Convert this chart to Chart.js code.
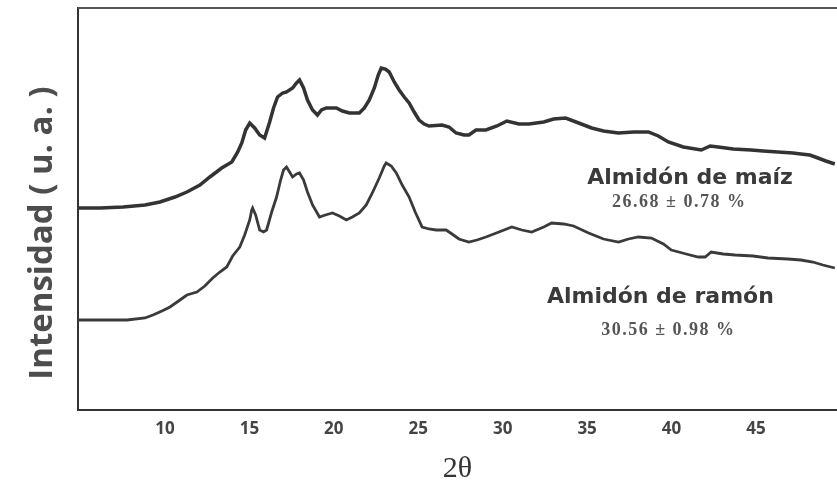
<!DOCTYPE html>
<html>
<head>
<meta charset="utf-8">
<script src="https://cdn.jsdelivr.net/npm/chart.js@4.4.0/dist/chart.umd.min.js"></script>
<style>
  html, body { margin: 0; padding: 0; background: #fff; }
  #wrap { width: 837px; height: 481px; }
</style>
</head>
<body>
<div id="wrap"><canvas id="xrdChart"></canvas></div>
<script>
// data (arbitrary intensity units)
const xTicks = [10, 15, 20, 25, 30, 35, 40, 45];

const maizTheta = [4.86, 6.16, 7.52, 8.82, 9.70, 10.59, 11.30, 12.07, 12.66, 13.36, 13.96, 14.31, 14.55, 14.78, 15.02, 15.31, 15.61, 15.90, 16.20, 16.43, 16.67, 16.97, 17.20, 17.56, 17.79, 17.97, 18.21, 18.44, 18.74, 19.03, 19.27, 19.56, 20.15, 20.51, 20.92, 21.51, 21.81, 22.10, 22.40, 22.63, 22.81, 23.05, 23.28, 23.58, 23.87, 24.17, 24.46, 24.76, 25.05, 25.35, 25.64, 26.41, 26.82, 27.24, 27.71, 28.00, 28.42, 29.01, 29.66, 30.25, 30.96, 31.55, 32.43, 33.02, 33.73, 34.50, 35.27, 35.97, 36.86, 37.75, 38.63, 39.22, 39.81, 40.70, 41.76, 42.29, 42.76, 43.65, 44.71, 45.42, 46.30, 47.19, 47.66, 48.19, 48.67, 49.14, 49.67];
const maizInt = [202, 202, 203, 205, 208, 213, 218, 225, 233, 242, 248, 258, 267, 280, 287, 282, 275, 272, 288, 302, 313, 317, 318, 322, 327, 330, 322, 310, 300, 295, 300, 302, 302, 299, 297, 297, 302, 310, 322, 335, 342, 341, 338, 328, 320, 313, 307, 298, 290, 286, 284, 285, 283, 277, 275, 275, 280, 280, 284, 289, 286, 286, 288, 291, 292, 287, 282, 279, 277, 278, 278, 274, 268, 263, 260, 264, 263, 261, 260, 259, 258, 257, 256, 255, 252, 249, 246];

const ramonTheta = [4.86, 6.16, 7.76, 8.82, 9.29, 9.82, 10.30, 10.89, 11.30, 11.89, 12.36, 12.83, 13.25, 13.66, 14.01, 14.43, 14.72, 15.02, 15.14, 15.19, 15.37, 15.61, 15.84, 16.02, 16.32, 16.61, 16.85, 17.02, 17.20, 17.38, 17.56, 17.79, 17.97, 18.21, 18.44, 18.74, 19.15, 19.50, 19.92, 20.33, 20.74, 21.10, 21.51, 21.92, 22.28, 22.69, 22.99, 23.10, 23.40, 23.70, 24.05, 24.46, 24.82, 25.23, 25.64, 26.06, 26.65, 27.00, 27.41, 28.00, 28.48, 29.01, 29.78, 30.54, 31.13, 31.72, 32.43, 32.90, 33.61, 34.20, 35.09, 35.97, 36.86, 37.45, 38.04, 38.81, 39.52, 39.99, 40.87, 41.58, 41.99, 42.35, 43.06, 43.77, 44.83, 45.71, 46.89, 47.66, 48.37, 48.96, 49.67];
const ramonInt = [90, 90, 90, 92, 95, 99, 103, 110, 115, 118, 124, 132, 138, 143, 154, 163, 175, 190, 200, 202, 195, 180, 178, 180, 198, 213, 230, 240, 243, 238, 233, 236, 237, 230, 218, 205, 193, 195, 197, 194, 190, 193, 197, 205, 217, 232, 244, 247, 244, 237, 225, 213, 198, 183, 181, 180, 180, 176, 171, 168, 170, 173, 178, 183, 180, 178, 183, 187, 186, 184, 177, 171, 168, 171, 173, 172, 166, 160, 156, 153, 153, 158, 156, 155, 154, 152, 151, 150, 148, 145, 142];

const toPoints = (xs, ys) => xs.map((x, i) => ({ x: x, y: ys[i] }));

// sample names and crystallinity written beside the curves
const notes = [
    { text: 'Almidón de maíz', x: 41.1, y: 232, font: 'bold 22px "DejaVu Sans"', color: '#3a3a3a', spacing: '0px' },
    { text: '26.68 ± 0.78 %', x: 40.46, y: 208, font: 'bold 18px "Liberation Serif"', color: '#555', spacing: '1.5px' },
    { text: 'Almidón de ramón', x: 39.34, y: 113, font: 'bold 22px "DejaVu Sans"', color: '#3a3a3a', spacing: '0px' },
    { text: '30.56 ± 0.98 %', x: 39.81, y: 80, font: 'bold 18px "Liberation Serif"', color: '#555', spacing: '1.5px' }
];
const yTitle = 'Intensidad ( u. a. )';

const framePlugin = {
    id: 'frame',
    beforeDraw(chart) {
        const c = chart.ctx;
        c.save();
        c.fillStyle = '#fff';
        c.fillRect(0, 0, chart.width, chart.height);
        c.restore();
    },
    afterDraw(chart) {
        const c = chart.ctx;
        const area = chart.chartArea;
        const xs = chart.scales.x, ys = chart.scales.y;
        c.save();
        c.strokeStyle = '#555';
        c.lineWidth = 2;
        c.beginPath();
        c.moveTo(area.left, area.top);
        c.lineTo(area.right, area.top);
        c.stroke();
        c.textAlign = 'center';
        c.textBaseline = 'middle';
        notes.forEach(n => {
            c.font = n.font;
            c.fillStyle = n.color;
            c.letterSpacing = n.spacing;
            c.fillText(n.text, xs.getPixelForValue(n.x), ys.getPixelForValue(n.y));
        });
        // y title sits a bit below the middle of the axis in the original
        c.letterSpacing = '0px';
        c.translate(area.left - 35, ys.getPixelForValue(177));
        c.rotate(-Math.PI / 2);
        c.font = 'bold 33px "Open Sans"';
        c.fillStyle = '#4d4d4d';
        c.fillText(yTitle, 0, 0);
        c.restore();
    }
};

new Chart(document.getElementById('xrdChart'), {
    type: 'line',
    data: {
        datasets: [
            {
                label: 'Almidón de maíz',
                data: toPoints(maizTheta, maizInt),
                borderColor: '#333',
                borderWidth: 3.5,
                pointRadius: 0,
                tension: 0
            },
            {
                label: 'Almidón de ramón',
                data: toPoints(ramonTheta, ramonInt),
                borderColor: '#3a3a3a',
                borderWidth: 2.8,
                pointRadius: 0,
                tension: 0
            }
        ]
    },
    options: {
        responsive: true,
        maintainAspectRatio: false,
        animation: false,
        layout: { padding: { top: 8, right: 0, left: 0, bottom: 0 } },
        plugins: {
            legend: { display: false },
            tooltip: { enabled: false }
        },
        scales: {
            x: {
                type: 'linear',
                min: 4.85,
                max: 49.8,
                afterBuildTicks: s => { s.ticks = xTicks.map(v => ({ value: v })); },
                afterFit: s => { s.height = 71; },
                grid: { display: false, drawTicks: false },
                border: { display: true, color: '#333', width: 2 },
                ticks: {
                    padding: 9,
                    color: '#444',
                    font: { family: '"Open Sans"', size: 17, weight: 'bold' }
                },
                title: {
                    display: true,
                    text: '2θ',
                    color: '#333',
                    padding: { top: 0, bottom: -3 },
                    font: { family: '"Liberation Serif"', size: 30, lineHeight: 1 }
                }
            },
            y: {
                min: 0,
                max: 402,
                afterFit: s => { s.width = 78; },
                grid: { display: false, drawTicks: false },
                border: { display: true, color: '#333', width: 2 },
                ticks: { display: false },
                title: { display: false }
            }
        }
    },
    plugins: [framePlugin]
});
</script>
</body>
</html>
